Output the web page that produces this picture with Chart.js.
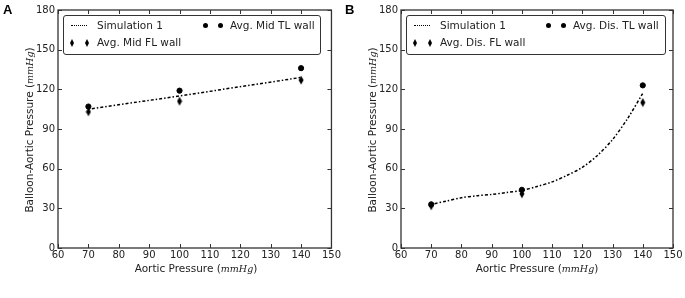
<!DOCTYPE html>
<html>
<head>
<meta charset="utf-8">
<script src="https://cdn.jsdelivr.net/npm/chart.js@4"></script>
<style>
  body { margin: 0; background: #fff; font-family: "DejaVu Sans", sans-serif; color: #222; }
  #wrap { position: relative; width: 685px; height: 298px; overflow: hidden; }
  .panel { position: absolute; top: 0; height: 298px; }
  .letter { position: absolute; top: 2px; font: bold 13px "Liberation Sans", Arial, sans-serif; color: #000; }
  .ytitle, .xtitle { position: absolute; font-size: 10.5px; white-space: nowrap; color: #222; }
  .ytitle { transform: translate(-50%, -50%) rotate(-90deg); }
  .xtitle { transform: translateX(-50%); }
  .unit { font-family: "DejaVu Serif", serif; font-style: italic; font-size: 9.5px; }
  .legend { position: absolute; border: 1px solid #333; border-radius: 3px; background: #fff; font-size: 10.5px; }
  .item { position: absolute; white-space: nowrap; line-height: 13px; }
  .dot { position: absolute; width: 5px; height: 5px; border-radius: 50%; background: #000; }
  .dia { position: absolute; width: 4px; height: 8px; background: #000; clip-path: polygon(50% 0, 100% 50%, 50% 100%, 0 50%); }
  .dash { position: absolute; width: 16px; height: 0; border-top: 1.5px dotted #000; }
</style>
</head>
<body>
<div id="wrap">
  <canvas id="chartA" class="panel" style="left:0" width="342" height="298"></canvas>
  <canvas id="chartB" class="panel" style="left:342px" width="343" height="298"></canvas>

  <div class="letter" style="left:3px">A</div>
  <div class="letter" style="left:345px">B</div>

  <div class="ytitle" style="left:29px; top:130px">Balloon-Aortic Pressure (<span class="unit">mmHg</span>)</div>
  <div class="ytitle" style="left:372px; top:130px">Balloon-Aortic Pressure (<span class="unit">mmHg</span>)</div>
  <div class="xtitle" style="left:196px; top:262px">Aortic Pressure (<span class="unit">mmHg</span>)</div>
  <div class="xtitle" style="left:537px; top:262px">Aortic Pressure (<span class="unit">mmHg</span>)</div>

  <div class="legend" style="left:63px; top:15px; width:256px; height:38px">
    <div class="dash" style="left:7px; top:9px"></div>
    <div class="item" style="left:33px; top:3px">Simulation 1</div>
    <div class="dot" style="left:139px; top:7px"></div>
    <div class="dot" style="left:154px; top:7px"></div>
    <div class="item" style="left:166px; top:3px">Avg. Mid TL wall</div>
    <div class="dia" style="left:6px; top:23px"></div>
    <div class="dia" style="left:21px; top:23px"></div>
    <div class="item" style="left:33px; top:20px">Avg. Mid FL wall</div>
  </div>

  <div class="legend" style="left:406px; top:15px; width:258px; height:38px">
    <div class="dash" style="left:7px; top:9px"></div>
    <div class="item" style="left:33px; top:3px">Simulation 1</div>
    <div class="dot" style="left:139px; top:7px"></div>
    <div class="dot" style="left:154px; top:7px"></div>
    <div class="item" style="left:166px; top:3px">Avg. Dis. TL wall</div>
    <div class="dia" style="left:6px; top:23px"></div>
    <div class="dia" style="left:21px; top:23px"></div>
    <div class="item" style="left:33px; top:20px">Avg. Dis. FL wall</div>
  </div>
</div>

<script>
// panel A (mid)
const simXA = [70, 100, 140];
const simYA = [105, 115, 129];
const measXA = [70, 100, 140];
const tlA = [107, 119, 136];
const flA = [103, 111, 127];

// panel B (distal)
const simXB = [70, 75, 80, 85, 90, 95, 100, 105, 110, 115, 120, 125, 130, 135, 140];
const simYB = [33, 35.5, 38, 39.5, 40.5, 42, 43.5, 46.5, 50, 55, 61, 70, 82, 98, 117];
const measXB = [70, 100, 140];
const tlB = [33, 44, 123];
const flB = [32, 41, 110];

const xTicks = [60, 70, 80, 90, 100, 110, 120, 130, 140, 150];
const yTicks = [0, 30, 60, 90, 120, 150, 180];

function pairs(xs, ys) {
  return xs.map((x, i) => ({ x: x, y: ys[i] }));
}

// thin diamond marker
const diamond = document.createElement('canvas');
diamond.width = 6;
diamond.height = 10;
(function () {
  const c = diamond.getContext('2d');
  c.fillStyle = '#000';
  c.beginPath();
  c.moveTo(3, 0.5);
  c.lineTo(5.5, 5);
  c.lineTo(3, 9.5);
  c.lineTo(0.5, 5);
  c.closePath();
  c.fill();
})();

// inward ticks on all four sides + full frame
const frameTicks = {
  id: 'frameTicks',
  afterDraw(chart) {
    const ctx = chart.ctx;
    const a = chart.chartArea;
    const xs = chart.scales.x, ys = chart.scales.y;
    ctx.save();
    ctx.strokeStyle = '#333';
    ctx.lineWidth = 1;
    ctx.beginPath();
    xTicks.forEach(v => {
      const p = Math.round(xs.getPixelForValue(v)) + 0.5;
      ctx.moveTo(p, a.bottom); ctx.lineTo(p, a.bottom - 4);
      ctx.moveTo(p, a.top); ctx.lineTo(p, a.top + 4);
    });
    yTicks.forEach(v => {
      const p = Math.round(ys.getPixelForValue(v)) + 0.5;
      ctx.moveTo(a.left, p); ctx.lineTo(a.left + 4, p);
      ctx.moveTo(a.right, p); ctx.lineTo(a.right - 4, p);
    });
    ctx.stroke();
    ctx.lineWidth = 1.3;
    ctx.strokeRect(a.left, a.top, a.right - a.left, a.bottom - a.top);
    ctx.restore();
  }
};

function makeChart(id, simX, simY, measX, tl, fl, leftW, rightPad, tension) {
  return new Chart(document.getElementById(id), {
    type: 'scatter',
    data: {
      datasets: [
        {
          label: 'Simulation 1',
          type: 'line',
          data: pairs(simX, simY),
          borderColor: '#000',
          borderWidth: 1.5,
          borderDash: [1.5, 2, 3, 2],
          pointRadius: 0,
          fill: false,
          tension: tension
        },
        {
          label: 'TL wall',
          data: pairs(measX, tl),
          pointStyle: 'circle',
          pointRadius: 2.6,
          backgroundColor: '#000',
          borderColor: '#000'
        },
        {
          label: 'FL wall',
          data: pairs(measX, fl),
          pointStyle: diamond,
          pointRadius: 4
        }
      ]
    },
    options: {
      responsive: false,
      animation: false,
      layout: { autoPadding: false, padding: { top: 10, right: rightPad, left: 0, bottom: 0 } },
      plugins: { legend: { display: false }, tooltip: { enabled: false } },
      scales: {
        x: {
          type: 'linear',
          min: 60, max: 150,
          afterFit(s) { s.height = 50; },
          afterBuildTicks(s) { s.ticks = xTicks.map(v => ({ value: v })); },
          grid: { display: false, drawTicks: false },
          border: { display: false },
          ticks: { color: '#222', font: { family: 'DejaVu Sans', size: 10 }, padding: 1, maxRotation: 0, autoSkip: false }
        },
        y: {
          type: 'linear',
          min: 0, max: 180,
          afterFit(s) { s.width = leftW; },
          afterBuildTicks(s) { s.ticks = yTicks.map(v => ({ value: v })); },
          grid: { display: false, drawTicks: false },
          border: { display: false },
          ticks: { color: '#222', font: { family: 'DejaVu Sans', size: 10 }, padding: 3, autoSkip: false }
        }
      }
    },
    plugins: [frameTicks]
  });
}

makeChart('chartA', simXA, simYA, measXA, tlA, flA, 58, 8, 0);
makeChart('chartB', simXB, simYB, measXB, tlB, flB, 59, 12, 0.3);
</script>
</body>
</html>
